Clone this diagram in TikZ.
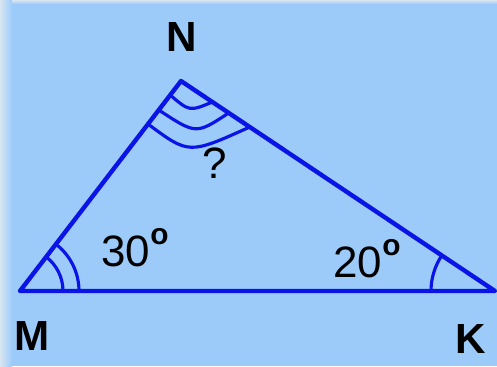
\documentclass[tikz,border=0pt]{standalone}
\usepackage{fontspec}
\setmainfont{Liberation Sans}
\usetikzlibrary{angles, calc}

\definecolor{skyblue}{HTML}{9CCBFA}
\definecolor{sideblue}{HTML}{D8E6F2}
\definecolor{lineblue}{HTML}{0A14E6}

\begin{document}
\begin{tikzpicture}[
    x=0.02cm, y=-0.02cm,
    side/.style={draw=lineblue, line width=2.5pt, line join=round},
    arcmark/.style={draw=lineblue, line width=1.8pt},
    vertex/.style={font=\fontsize{24}{24}\selectfont\bfseries, text=black},
    value/.style={font=\fontsize{25}{25}\selectfont, text=black}
]
% background
\fill[skyblue] (0,0) rectangle (497,366);
\shade[left color=sideblue, right color=skyblue] (0,0) rectangle (12,366);
\shade[top color=sideblue, bottom color=skyblue] (12,0) rectangle (497,4);
\useasboundingbox (0,0) rectangle (497,366);

\coordinate (M) at (20,291);
\coordinate (N) at (181,81);
\coordinate (K) at (495,291);

% angle marks
\pic[arcmark, angle radius=0.86cm] {angle = K--M--N};
\pic[arcmark, angle radius=1.18cm] {angle = K--M--N};
\pic[arcmark, angle radius=1.28cm] {angle = N--K--M};
\draw[arcmark] ($(N)!0.067!(M)$) .. controls (189.5,111.5) .. ($(N)!0.1!(K)$);
\draw[arcmark] ($(N)!0.138!(M)$) .. controls (196,134.5) .. ($(N)!0.152!(K)$);
\draw[arcmark] ($(N)!0.205!(M)$) .. controls (189,154.5) .. ($(N)!0.219!(K)$);

% triangle
\draw[side] (M) -- (N) -- (K) -- cycle;

\node[vertex] (labelN) at (182,37) {N};
\node[vertex] (labelM) at (32,336) {M};
\node[vertex] (labelK) at (471,339) {K};
\node[value] (ang30) at (135,248) {30\raisebox{0.95ex}{\fontsize{17}{17}\selectfont\bfseries o}};
\node[value] (ang20) at (367,259) {20\raisebox{0.95ex}{\fontsize{17}{17}\selectfont\bfseries o}};
\node[value] (angN) at (215,163) {?};
\end{tikzpicture}
\end{document}
